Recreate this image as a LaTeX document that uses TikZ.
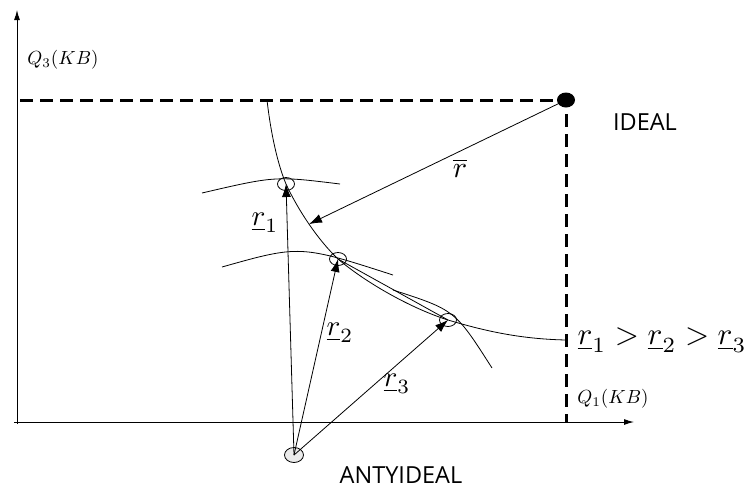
\documentclass[tikz,border=0pt]{standalone}
\usepackage{fontspec}
\newfontfamily\labelsf{Open Sans}
\usepackage{tikz}
\usetikzlibrary{arrows.meta, positioning, shapes.geometric, calc}

\begin{document}
\begin{tikzpicture}[x=1pt, y=-1pt,
    line/.style={line width=0.8pt},
    ray/.style={line width=0.8pt, -{Latex[length=13pt, width=9pt]}},
    axis/.style={line width=1pt, -{Latex[length=10pt, width=6pt]}},
    dashline/.style={line width=3pt, dash pattern=on 13pt off 7pt},
    ptideal/.style={ellipse, fill=black, minimum width=18pt, minimum height=15pt, inner sep=0pt},
    ptopen/.style={ellipse, draw, line width=0.8pt, minimum width=17pt, minimum height=13pt, inner sep=0pt},
    ptanti/.style={ellipse, draw, fill=black!8, line width=0.8pt, minimum width=19pt, minimum height=15pt, inner sep=0pt},
    every node/.style={inner sep=0pt}]
    \useasboundingbox (0,0) rectangle (750,488);

    \coordinate (xstart) at (14,422);
    \coordinate (xend) at (634,422);
    \coordinate (ystart) at (17,424);
    \coordinate (yend) at (17,10);
    \draw [axis] (xstart) -- (xend);
    \draw [axis] (ystart) -- (yend);

    \node [ptideal] (ideal) at (566,100) {};
    \node [ptopen] (p1) at (286,184) {};
    \node [ptopen] (p2) at (338,259) {};
    \node [ptopen] (p3) at (448,320) {};
    \node [ptanti] (anti) at (294,455) {};

    \coordinate (q3mark) at (20,100);
    \coordinate (q1mark) at (566,422);
    \draw [dashline] (q3mark) -- (ideal.center) -- (q1mark);

    \coordinate (fstart) at (267,100);
    \coordinate (fend) at (566,340);
    \draw [line] (fstart) .. controls (271,135) and (278,165) .. (p1.center)
        .. controls (298,210) and (318,240) .. (p2.center) coordinate [pos=0.5] (hit)
        .. controls (365,282) and (410,308) .. (p3.center)
        .. controls (485,331) and (520,339) .. (fend);
    \draw [line] (p2.center) -- (p3.center);

    \coordinate (a1s) at (202,193);
    \coordinate (a1e) at (340,184);
    \coordinate (a2s) at (222,267);
    \coordinate (a2e) at (393,275);
    \coordinate (a3s) at (393,290);
    \coordinate (a3e) at (492,368);
    \draw [line] (a1s) .. controls (275,176) .. (a1e);
    \draw [line] (a2s) .. controls (300,245) .. (a2e);
    \draw [line] (a3s) .. controls (455,310) .. (a3e);

    \draw [ray] (ideal.center) -- (hit);
    \draw [ray] (anti.center) -- (p1.center);
    \draw [ray] (anti.center) -- (p2.center);
    \draw [ray] (anti.center) -- (p3.center);

    \node [scale=1.9] (q3) at (63,60) {$Q_3(KB)$};
    \node [scale=1.9] (q1) at (613,399) {$Q_1(KB)$};
    \node [scale=3.0] (lbar) at (460,168) {$\overline{r}$};
    \node [scale=2.9] (l1) at (265,223) {$\underline{r}_1$};
    \node [scale=2.9] (l2) at (340,333) {$\underline{r}_2$};
    \node [scale=2.9] (l3) at (397,384) {$\underline{r}_3$};
    \node [scale=3.1, anchor=west] (order) at (577,340) {$\underline{r}_1>\underline{r}_2>\underline{r}_3$};
    \node (lideal) at (645,122) {\fontsize{23.5}{28}\labelsf IDEAL};
    \node (lanti) at (401,475) {\fontsize{23.5}{28}\labelsf ANTYIDEAL};
\end{tikzpicture}
\end{document}
